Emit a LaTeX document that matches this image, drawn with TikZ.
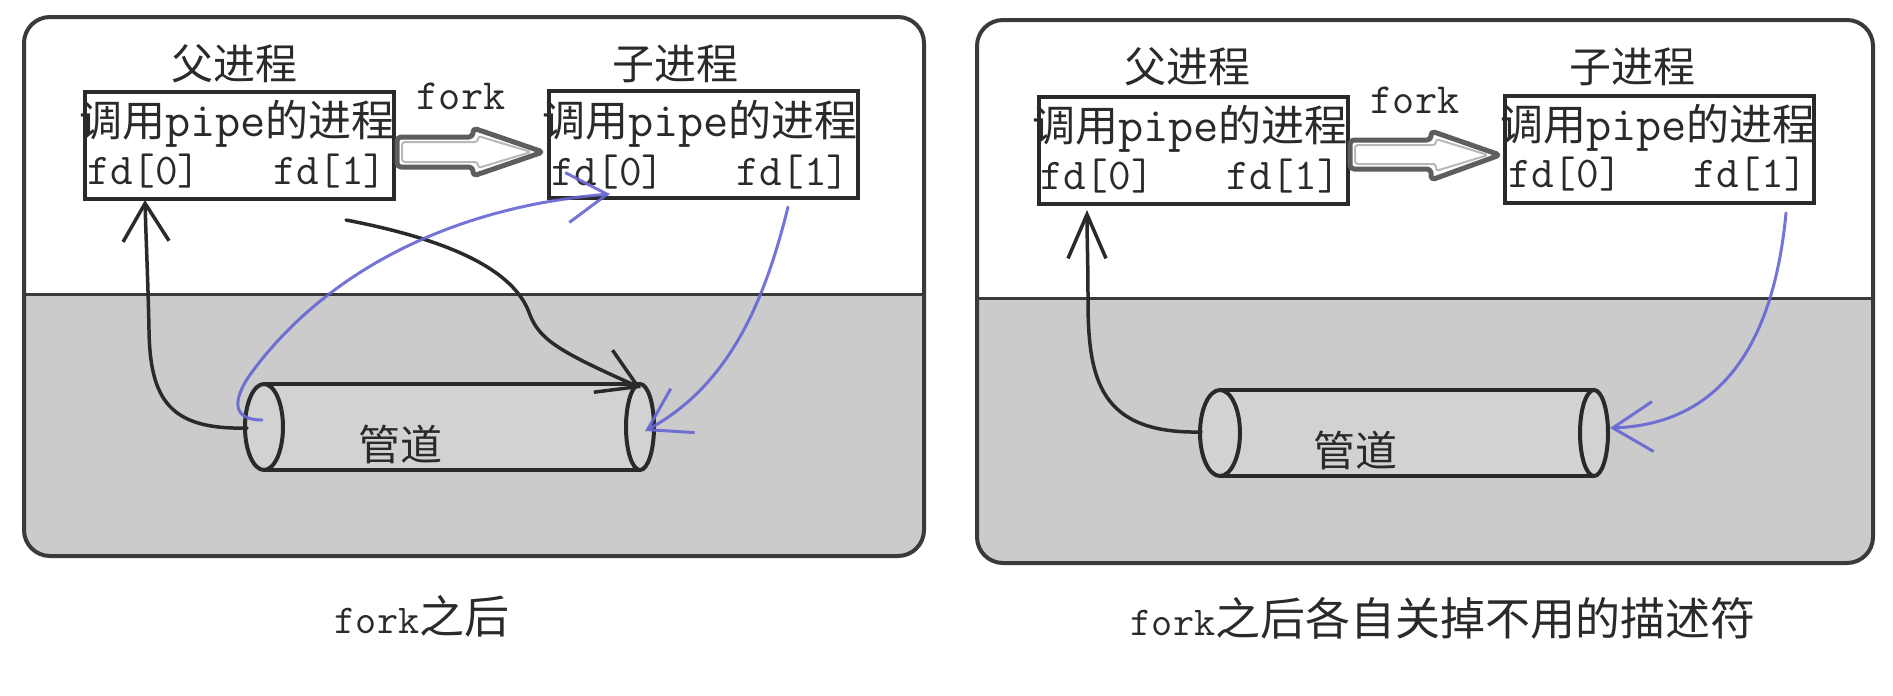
\documentclass[tikz,border=0pt]{standalone}
\usepackage{fontspec}
\newfontfamily\cjk{Noto Sans CJK SC}
\usetikzlibrary{arrows.meta,calc}
\definecolor{bordc}{HTML}{3A3A3A}
\definecolor{graybg}{HTML}{CBCBCB}
\definecolor{pipefill}{HTML}{D2D2D2}
\definecolor{inkc}{HTML}{2A2A2A}
\definecolor{bluec}{HTML}{6666D4}
\definecolor{txtc}{HTML}{2A2A2A}
\definecolor{forkc}{HTML}{5E5E5E}
\definecolor{forkin}{HTML}{B8B8B8}
\newcommand{\Cj}[1]{{\cjk #1}}
\newcommand{\fsz}[1]{\fontsize{#1}{#1}\selectfont}
\begin{document}
\begin{tikzpicture}[x=1pt,y=-1pt,
  panel/.style={rounded corners=26pt, line width=4pt, draw=bordc},
  divider/.style={draw=bordc, line width=3pt},
  procbox/.style={draw=inkc, line width=3.5pt, fill=white, minimum width=309pt, minimum height=107pt, inner sep=0pt, anchor=north west},
  title/.style={text=txtc, inner sep=0pt, font=\fsz{42}\cjk},
  line1/.style={text=txtc, inner sep=0pt, font=\fsz{43}\ttfamily},
  fdtxt/.style={text=txtc, inner sep=0pt, font=\fsz{44}\ttfamily},
  forktxt/.style={text=txtc, inner sep=0pt, font=\fsz{43}\ttfamily},
  pipetxt/.style={text=txtc, inner sep=0pt, font=\fsz{42}\cjk},
  caption/.style={text=txtc, inner sep=0pt, font=\ttfamily},
  pipeline/.style={draw=inkc, line width=4pt},
  blackarrow/.style={draw=inkc, line width=3.5pt, line cap=round, -{Straight Barb[length=38pt,width=46pt]}},
  bluearrow/.style={draw=bluec, line width=3pt, line cap=round, opacity=0.9, -{Straight Barb[length=40pt,width=50pt]}},
  forkarrow/.style={draw=forkc, line width=5pt, fill=white, rounded corners=4pt, line join=round},
  forkinner/.style={draw=forkin, line width=2pt, rounded corners=3pt, line join=round}
]
\useasboundingbox (0,0) rectangle (1893,696);
\fill[white] (0,0) rectangle (1893,696);

% ---------------- left panel ----------------
\begin{scope}
  \clip[rounded corners=26pt] (24,17) rectangle (924,556);
  \fill[graybg] (24,294) rectangle (924,556);
\end{scope}
\draw[divider] (24,294) -- (924,294);
\draw[panel] (24,17) rectangle (924,556);

\node[title] (lpt) at (234,64) {父进程};
\node[title] (lct) at (675,64) {子进程};
\node[procbox] (lpbox) at (83,90) {};
\node[procbox] (lcbox) at (547,89) {};
\node[line1] (lpl1) at (237,124) {\Cj{调用}{\fsz{49}pipe}\Cj{的进程}};
\node[line1] (lcl1) at (700,124) {\Cj{调用}{\fsz{49}pipe}\Cj{的进程}};
\node[fdtxt] (lpfd0) at (144,171) {fd[0]};
\node[fdtxt] (lpfd1) at (330,171) {fd[1]};
\node[fdtxt] (lcfd0) at (608,172) {fd[0]};
\node[fdtxt] (lcfd1) at (793,172) {fd[1]};
\node[forktxt] (lfork) at (461,96) {fork};
\draw[forkarrow] (397,137) -- (473,137) -- (473,128) -- (543,152) -- (473,176) -- (473,167) -- (397,167) -- cycle;
\draw[forkinner] (402,142) -- (478,142) -- (478,136) -- (531,152) -- (478,168) -- (478,162) -- (402,162) -- cycle;

% pipe
\fill[pipefill] (264,384) rectangle (640,470);
\draw[pipeline] (264,384) -- (640,384);
\draw[pipeline] (264,470) -- (640,470);
\draw[pipeline, fill=pipefill] (264,427) ellipse [x radius=19pt, y radius=43pt];
\draw[pipeline, fill=pipefill] (640,427) ellipse [x radius=14pt, y radius=43pt];
\node[pipetxt] (lpipe) at (400,444) {管道};

\coordinate (lpL) at (247,428);
\coordinate (lpLin) at (262,420);
\coordinate (lpR) at (641,388);
\coordinate (lpRm) at (645,431);
\coordinate (lpfd0b) at (145,200);
\coordinate (lcfd0b) at (610,194);
\coordinate (lcfd1b) at (788,207);
\coordinate (lmid) at (346,220);

\draw[blackarrow] (lpL) .. controls (170,430) and (150,400) .. (149,330) .. controls (148,280) and (146,240) .. (lpfd0b);
\draw[blackarrow] (lmid) .. controls (450,240) and (515,270) .. (530,315) .. controls (540,340) and (560,352) .. (lpR);
\draw[bluearrow] (lpLin) .. controls (228,420) and (235,395) .. (252,372) .. controls (320,280) and (440,208) .. (lcfd0b);
\draw[bluearrow] (lcfd1b) .. controls (765,300) and (730,385) .. (lpRm);

\node[caption] (lcap) at (422,616) {\fsz{41}fork\fsz{45}\Cj{之后}};

% ---------------- right panel ----------------
\begin{scope}
  \clip[rounded corners=26pt] (977,20) rectangle (1873,563);
  \fill[graybg] (977,298) rectangle (1873,563);
\end{scope}
\draw[divider] (977,298) -- (1873,298);
\draw[panel] (977,20) rectangle (1873,563);

\node[title] (rpt) at (1187,67) {父进程};
\node[title] (rct) at (1632,67) {子进程};
\node[procbox] (rpbox) at (1037,95) {};
\node[procbox] (rcbox) at (1503,94) {};
\node[line1] (rpl1) at (1190,129) {\Cj{调用}{\fsz{49}pipe}\Cj{的进程}};
\node[line1] (rcl1) at (1658,128) {\Cj{调用}{\fsz{49}pipe}\Cj{的进程}};
\node[fdtxt] (rpfd0) at (1097,176) {fd[0]};
\node[fdtxt] (rpfd1) at (1283,176) {fd[1]};
\node[fdtxt] (rcfd0) at (1565,174) {fd[0]};
\node[fdtxt] (rcfd1) at (1750,174) {fd[1]};
\node[forktxt] (rfork) at (1415,100) {fork};
\draw[forkarrow] (1350,140) -- (1431,140) -- (1431,131) -- (1500,155) -- (1431,180) -- (1431,169) -- (1350,169) -- cycle;
\draw[forkinner] (1355,145) -- (1436,145) -- (1436,139) -- (1488,155) -- (1436,171) -- (1436,164) -- (1355,164) -- cycle;

\fill[pipefill] (1220,390) rectangle (1594,476);
\draw[pipeline] (1220,390) -- (1594,390);
\draw[pipeline] (1220,476) -- (1594,476);
\draw[pipeline, fill=pipefill] (1220,433) ellipse [x radius=20pt, y radius=43pt];
\draw[pipeline, fill=pipefill] (1594,433) ellipse [x radius=14pt, y radius=43pt];
\node[pipetxt] (rpipe) at (1355,450) {管道};

\coordinate (rpL) at (1201,432);
\coordinate (rpR) at (1610,428);
\coordinate (rpfd0b) at (1087,210);
\coordinate (rcfd1b) at (1786,213);

\draw[blackarrow, -{Straight Barb[length=44pt,width=38pt]}] (rpL) .. controls (1100,434) and (1088,380) .. (1088,300) .. controls (1088,260) and (1087,240) .. (rpfd0b);
\draw[bluearrow] (rcfd1b) .. controls (1775,330) and (1730,424) .. (rpR);

\node[caption] (rcap) at (1443,618) {\fsz{41}fork\fsz{45}\Cj{之后各自关掉不用的描述符}};
\end{tikzpicture}
\end{document}
